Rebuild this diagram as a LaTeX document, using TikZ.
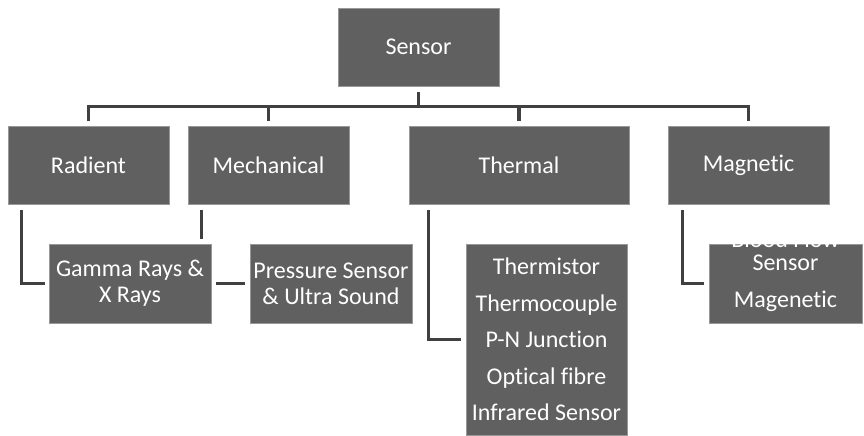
\documentclass[tikz,border=0pt]{standalone}
\usepackage{fontspec}
\setmainfont{Carlito}[Ligatures=NoCommon]
\usetikzlibrary{calc,positioning}
\definecolor{boxgray}{HTML}{606060}
\definecolor{edgegray}{HTML}{989898}
\definecolor{wiregray}{HTML}{404040}
\tikzset{
  box/.style   = {draw=edgegray, line width=0.8pt, fill=boxgray, text=white,
                  inner sep=0pt, align=center, minimum width=161pt, minimum height=78pt,
                  font=\fontsize{24}{26}\selectfont},
  listbox/.style = {box, font=\fontsize{24}{36.6}\selectfont},
  wire/.style  = {line width=3.5pt, wiregray},
}
\begin{document}
\begin{tikzpicture}[x=1pt,y=1pt]
  \useasboundingbox (0,0) rectangle (864,436);
  % top and first level
  \node[box] (sensor)   at (418.5,389) {Sensor};
  \node[box] (radient)  at (88.5,271)  {Radient};
  \node[box] (mech)     at (268.5,271) {Mechanical};
  \node[box, minimum width=220pt] (thermal) at (519,271) {Thermal};
  \node[box] (magnetic) at (748.5,271) {Magnetic};
  % second level
  \node[box, minimum width=162pt, minimum height=79pt] (gamma)    at (130,152.5) {Gamma Rays \&\\X Rays};
  \node[box, minimum width=162pt, minimum height=79pt] (pressure) at (331,152.5) {Pressure Sensor\\\& Ultra Sound};
  \node[listbox, minimum height=191pt] (thermkids) at (546.5,96.5)
    {Thermistor\\Thermocouple\\P-N Junction\\Optical fibre\\Infrared Sensor};
  \node[listbox, minimum width=153pt, minimum height=79pt,
        label={[label distance=-4pt, inner sep=0pt, text=white, font=\fontsize{24}{26}\selectfont]above:Blood Flow}]
    (magkids) at (785.5,152.5) {Sensor\\Magenetic};
  % bus
  \draw[wire] ([yshift=-6pt]sensor.south) -- ++(0,-14) coordinate (bus);
  \draw[wire] ([yshift=5pt]radient.north) |- (bus) -| ([yshift=5pt]magnetic.north);
  \draw[wire] ([yshift=5pt]mech.north) -- (mech.north |- bus);
  \draw[wire] ([yshift=5pt]thermal.north) -- (thermal.north |- bus);
  % branches
  \draw[wire] ($(radient.south west)+(14,-6)$) |- ([xshift=-4pt]gamma.west);
  \coordinate (mechdrop) at ($(mech.south west)+(14,-6)$);
  \draw[wire] (mechdrop) -- ($(mechdrop |- gamma.north)+(0,5)$);
  \draw[wire] ([xshift=5pt]gamma.east) -- ([xshift=-5pt]pressure.west);
  \draw[wire] ($(thermal.south west)+(20,-6)$) |- ([xshift=-5pt]thermkids.west);
  \draw[wire] ($(magnetic.south west)+(15,-6)$) |- ([xshift=-5pt]magkids.west);
\end{tikzpicture}
\end{document}
